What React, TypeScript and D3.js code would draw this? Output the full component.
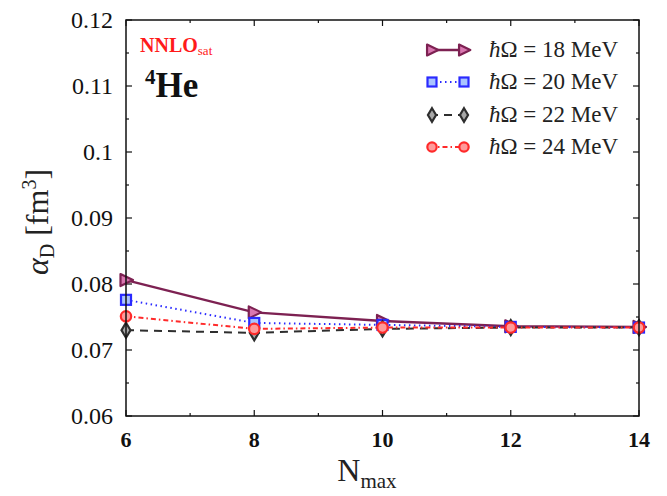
import React from "react";
import * as d3 from "d3";

const nmax = [6, 8, 10, 12, 14];
const hw18 = [0.0806, 0.0757, 0.0744, 0.0736, 0.0735];
const hw20 = [0.0776, 0.0741, 0.0738, 0.0735, 0.0734];
const hw22 = [0.0730, 0.0726, 0.0732, 0.0734, 0.0734];
const hw24 = [0.0751, 0.0732, 0.0734, 0.0734, 0.0734];
const yTicks = [0.06, 0.07, 0.08, 0.09, 0.1, 0.11, 0.12];
const yTickLabels = ["0.06", "0.07", "0.08", "0.09", "0.1", "0.11", "0.12"];
const xTicks = [6, 8, 10, 12, 14];
const legendLabels = ["18", "20", "22", "24"];

const W = 667, H = 496;
const m = { l: 126, r: 639, t: 20, b: 416 };

type Series = { vals: number[]; stroke: string; fill: string; dash: string; width: number; marker: string };

const series: Series[] = [
  { vals: hw18, stroke: "#7d2152", fill: "#d977b0", dash: "none", width: 2.4, marker: "tri" },
  { vals: hw20, stroke: "#2a2aff", fill: "#a9c4ff", dash: "1.5,3.5", width: 2, marker: "sq" },
  { vals: hw22, stroke: "#2e2e2e", fill: "#a8a8a8", dash: "8,6", width: 2, marker: "dia" },
  { vals: hw24, stroke: "#ff2a2a", fill: "#ff9a9a", dash: "5,3,1.5,3", width: 2, marker: "circ" },
];

function Marker({ type, x, y, s, k = 1 }: { type: string; x: number; y: number; s: Series; k?: number }) {
  const sw = 2.2;
  if (type === "tri") {
    return <path d={`M${x - 5.5 * k},${y - 6 * k}L${x + 7 * k},${y}L${x - 5.5 * k},${y + 6 * k}Z`} fill={s.fill} stroke={s.stroke} strokeWidth={sw} strokeLinejoin="round" />;
  }
  if (type === "sq") {
    return <rect x={x - 5 * k} y={y - 5 * k} width={10 * k} height={10 * k} fill={s.fill} stroke={s.stroke} strokeWidth={sw} />;
  }
  if (type === "dia") {
    return <path d={`M${x},${y - 7.5 * k}L${x + 4.5 * k},${y}L${x},${y + 7.5 * k}L${x - 4.5 * k},${y}Z`} fill={s.fill} stroke={s.stroke} strokeWidth={sw} />;
  }
  return <circle cx={x} cy={y} r={5.2 * k} fill={s.fill} stroke={s.stroke} strokeWidth={sw} />;
}

export default function App() {
  const x = d3.scaleLinear().domain([6, 14]).range([m.l, m.r]);
  const y = d3.scaleLinear().domain([0.06, 0.12]).range([m.b, m.t]);
  const line = d3.line<number>().x((_, i) => x(nmax[i])).y((d) => y(d));
  const minorY = d3.range(0.065, 0.12, 0.01);
  const minorX = [7, 9, 11, 13];
  const serif = "'Liberation Serif', 'DejaVu Serif', serif";
  const legY = [50, 82, 115, 147];

  return (
    <svg width={W} height={H} style={{ position: "absolute", left: 0, top: 0, background: "#fff" }} fontFamily={serif}>
      <rect x={0} y={0} width={W} height={H} fill="#fff" />
      <g stroke="#111" strokeWidth={1.2}>
        {yTicks.map((t) => (
          <g key={"y" + t}>
            <line x1={m.l} x2={m.l + 6} y1={y(t)} y2={y(t)} />
            <line x1={m.r} x2={m.r - 6} y1={y(t)} y2={y(t)} />
          </g>
        ))}
        {minorY.map((t) => (
          <g key={"my" + t}>
            <line x1={m.l} x2={m.l + 3} y1={y(t)} y2={y(t)} />
            <line x1={m.r} x2={m.r - 3} y1={y(t)} y2={y(t)} />
          </g>
        ))}
        {xTicks.map((t) => (
          <g key={"x" + t}>
            <line x1={x(t)} x2={x(t)} y1={m.b} y2={m.b - 6} />
            <line x1={x(t)} x2={x(t)} y1={m.t} y2={m.t + 6} />
          </g>
        ))}
        {minorX.map((t) => (
          <g key={"mx" + t}>
            <line x1={x(t)} x2={x(t)} y1={m.b} y2={m.b - 3} />
            <line x1={x(t)} x2={x(t)} y1={m.t} y2={m.t + 3} />
          </g>
        ))}
      </g>
      {series.map((s, k) => (
        <path key={"l" + k} d={line(s.vals) || ""} fill="none" stroke={s.stroke} strokeWidth={s.width} strokeDasharray={s.dash} />
      ))}
      {series.map((s, k) => (
        <g key={"m" + k}>
          {s.vals.map((v, i) => (
            <Marker key={i} type={s.marker} x={x(nmax[i])} y={y(v)} s={s} />
          ))}
        </g>
      ))}
      <rect x={m.l} y={m.t} width={m.r - m.l} height={m.b - m.t} fill="none" stroke="#111" strokeWidth={1.5} />
      {yTicks.map((t, i) => (
        <text key={"yl" + t} x={113} y={y(t) + 8} textAnchor="end" fontSize={24} fill="#111">{yTickLabels[i]}</text>
      ))}
      {xTicks.map((t) => (
        <text key={"xl" + t} x={x(t)} y={447} textAnchor="middle" fontSize={22} fontWeight="bold" fill="#111">{t}</text>
      ))}
      <text x={367} y={481} textAnchor="middle" fontSize={32} fill="#222">
        N<tspan fontSize={21} dy={7}>max</tspan>
      </text>
      <text transform="translate(48,222) rotate(-90)" textAnchor="middle" fontSize={32} fill="#222">
        <tspan fontStyle="italic">α</tspan><tspan fontSize={20} dy={6}>D</tspan><tspan dy={-6}> [fm</tspan><tspan fontSize={20} dy={-12}>3</tspan><tspan dy={12}>]</tspan>
      </text>
      <text x={140} y={52} fontSize={20} fontWeight="bold" fill="#ff1a1a">
        NNLO<tspan fontSize={13} fontWeight="normal" dy={3}>sat</tspan>
      </text>
      <text x={145} y={97} fontSize={35} fontWeight="bold" fill="#111">
        <tspan fontSize={21} dy={-13}>4</tspan><tspan dy={13}>He</tspan>
      </text>
      {series.map((s, k) => (
        <g key={"lg" + k}>
          <line x1={430} x2={466} y1={legY[k]} y2={legY[k]} stroke={s.stroke} strokeWidth={s.width} strokeDasharray={s.dash} />
          <Marker type={s.marker} x={432} y={legY[k]} s={s} k={0.9} />
          <Marker type={s.marker} x={464} y={legY[k]} s={s} k={0.9} />
          <text x={489} y={legY[k] + 7} fontSize={23} fill="#222">
            <tspan fontStyle="italic">ħ</tspan>Ω = {legendLabels[k]} MeV
          </text>
        </g>
      ))}
    </svg>
  );
}
